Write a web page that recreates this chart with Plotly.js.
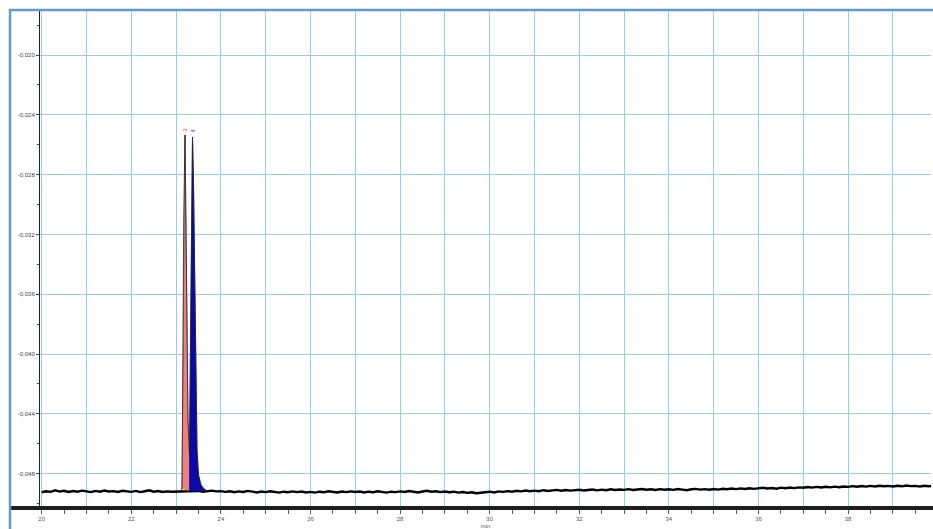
<!DOCTYPE html>
<html>
<head>
<meta charset="utf-8">
<script src="https://cdn.plot.ly/plotly-3.0.1.min.js"></script>
<style>html,body{margin:0;padding:0;background:#fff;}#chart{width:933px;height:529px;}</style>
</head>
<body>
<div id="chart"></div>
<script>
// ---- Data ----
const baseTime = [
20.0,20.1,20.2,20.3,20.4,20.5,20.6,20.7,20.8,20.9,
21.0,21.1,21.2,21.3,21.4,21.5,21.6,21.7,21.8,21.9,
22.0,22.1,22.2,22.3,22.4,22.5,22.6,22.7,22.8,22.9,
23.0,23.1,23.2,23.3,23.4,23.5,23.6,23.7,23.8,23.9,
24.0,24.1,24.2,24.3,24.4,24.5,24.6,24.7,24.8,24.9,
25.0,25.1,25.2,25.3,25.4,25.5,25.6,25.7,25.8,25.9,
26.0,26.1,26.2,26.3,26.4,26.5,26.6,26.7,26.8,26.9,
27.0,27.1,27.2,27.3,27.4,27.5,27.6,27.7,27.8,27.9,
28.0,28.1,28.2,28.3,28.4,28.5,28.6,28.7,28.8,28.9,
29.0,29.1,29.2,29.3,29.4,29.5,29.6,29.7,29.8,29.9,
30.0,30.1,30.2,30.3,30.4,30.5,30.6,30.7,30.8,30.9,
31.0,31.1,31.2,31.3,31.4,31.5,31.6,31.7,31.8,31.9,
32.0,32.1,32.2,32.3,32.4,32.5,32.6,32.7,32.8,32.9,
33.0,33.1,33.2,33.3,33.4,33.5,33.6,33.7,33.8,33.9,
34.0,34.1,34.2,34.3,34.4,34.5,34.6,34.7,34.8,34.9,
35.0,35.1,35.2,35.3,35.4,35.5,35.6,35.7,35.8,35.9,
36.0,36.1,36.2,36.3,36.4,36.5,36.6,36.7,36.8,36.9,
37.0,37.1,37.2,37.3,37.4,37.5,37.6,37.7,37.8,37.9,
38.0,38.1,38.2,38.3,38.4,38.5,38.6,38.7,38.8,38.9,
39.0,39.1,39.2,39.3,39.4,39.5,39.6,39.7,39.8,39.9];
const baseSignal = [
-0.04925,-0.04918,-0.04922,-0.04912,-0.04920,-0.04915,-0.04923,-0.04917,-0.04921,-0.04914,
-0.04919,-0.04924,-0.04916,-0.04921,-0.04913,-0.04920,-0.04917,-0.04923,-0.04915,-0.04919,
-0.04922,-0.04916,-0.04924,-0.04918,-0.04912,-0.04921,-0.04917,-0.04923,-0.04919,-0.04921,
-0.04920,-0.04924,-0.04918,-0.04922,-0.04919,-0.04916,-0.04921,-0.04917,-0.04914,-0.04919,
-0.04917,-0.04922,-0.04918,-0.04925,-0.04919,-0.04923,-0.04916,-0.04921,-0.04926,-0.04920,
-0.04924,-0.04918,-0.04923,-0.04927,-0.04921,-0.04925,-0.04919,-0.04924,-0.04920,-0.04926,
-0.04922,-0.04927,-0.04921,-0.04925,-0.04918,-0.04923,-0.04926,-0.04920,-0.04924,-0.04919,
-0.04923,-0.04920,-0.04926,-0.04921,-0.04925,-0.04918,-0.04922,-0.04927,-0.04921,-0.04924,
-0.04919,-0.04923,-0.04917,-0.04922,-0.04926,-0.04920,-0.04915,-0.04921,-0.04918,-0.04924,
-0.04920,-0.04925,-0.04921,-0.04927,-0.04923,-0.04929,-0.04925,-0.04931,-0.04928,-0.04924,
-0.04921,-0.04926,-0.04919,-0.04922,-0.04917,-0.04921,-0.04915,-0.04919,-0.04913,-0.04918,
-0.04914,-0.04918,-0.04911,-0.04916,-0.04912,-0.04909,-0.04915,-0.04910,-0.04914,-0.04911,
-0.04908,-0.04913,-0.04909,-0.04906,-0.04912,-0.04907,-0.04911,-0.04905,-0.04910,-0.04906,
-0.04909,-0.04904,-0.04910,-0.04906,-0.04903,-0.04908,-0.04905,-0.04910,-0.04904,-0.04908,
-0.04905,-0.04909,-0.04903,-0.04907,-0.04911,-0.04905,-0.04902,-0.04907,-0.04904,-0.04908,
-0.04903,-0.04907,-0.04901,-0.04905,-0.04900,-0.04904,-0.04899,-0.04903,-0.04898,-0.04902,
-0.04899,-0.04895,-0.04900,-0.04896,-0.04901,-0.04894,-0.04898,-0.04893,-0.04897,-0.04892,
-0.04895,-0.04890,-0.04894,-0.04889,-0.04893,-0.04888,-0.04892,-0.04887,-0.04891,-0.04886,
-0.04889,-0.04884,-0.04888,-0.04883,-0.04887,-0.04882,-0.04886,-0.04881,-0.04885,-0.04882,
-0.04886,-0.04881,-0.04885,-0.04880,-0.04884,-0.04882,-0.04886,-0.04881,-0.04885,-0.04883];

// Peak region signal (peaks 3 and 4)
const peakTime   = [23.087,23.130,23.143,23.155,23.170,23.199,23.221,23.243,23.266,23.299,
                    23.318,23.337,23.352,23.366,23.388,23.411,23.429,23.444,23.467,23.500,23.556,23.623,23.690];
const peakSignal = [-0.04916,-0.04903,-0.04442,-0.03840,-0.03104,-0.02535,-0.03104,-0.03773,-0.04442,-0.04676,
                    -0.03973,-0.03304,-0.02836,-0.02549,-0.02836,-0.03304,-0.03840,-0.04308,-0.04642,-0.04809,-0.04876,-0.04903,-0.04916];
const valleyIndex = 9;          // drop line between peak 3 and peak 4
const valleyBase = -0.04916;    // baseline under the drop line
const peakLabels = ["3", "4"];
const peakLabelTime = [23.190, 23.372];
const peakLabelSignal = [-0.02502, -0.02508];

// Axis ticks
const xTickVals = [20,21,22,23,24,25,26,27,28,29,30,31,32,33,34,35,36,37,38,39];
const xTickText = ["20","","22","","24","","26","","28","","30","","32","","34","","36","","38",""];
const yTickVals = [-0.020,-0.024,-0.028,-0.032,-0.036,-0.040,-0.044,-0.048];
const yTickText = ["-0,020","-0,024","-0,028","-0,032","-0,036","-0,040","-0,044","-0,048"];

// ---- Build traces ----
const redX = peakTime.slice(1, valleyIndex + 1).concat([peakTime[valleyIndex]]);
const redY = peakSignal.slice(1, valleyIndex + 1).concat([valleyBase]);
const blueX = [peakTime[valleyIndex]].concat(peakTime.slice(valleyIndex));
const blueY = [valleyBase].concat(peakSignal.slice(valleyIndex));

const traces = [
  {x: baseTime, y: baseSignal, type: 'scatter', mode: 'lines',
   line: {color: '#000', width: 2.4}, hoverinfo: 'skip'},
  {x: redX, y: redY, type: 'scatter', mode: 'lines', fill: 'toself',
   fillcolor: '#f08080', line: {color: '#6a5050', width: 0.6}, hoverinfo: 'skip'},
  {x: blueX, y: blueY, type: 'scatter', mode: 'lines', fill: 'toself',
   fillcolor: '#0a0aa8', line: {color: '#0a0aa8', width: 0.6}, hoverinfo: 'skip'},
  {x: peakTime, y: peakSignal, type: 'scatter', mode: 'lines',
   line: {color: '#222', width: 0.8}, hoverinfo: 'skip'}
];

const L = 40, R = 2, T = 11, B = 22, W = 933, H = 529;
const pw = W - L - R, ph = H - T - B;
const px = v => (v - L) / pw;           // pixel x -> paper
const py = v => (H - B - v) / ph;       // pixel y -> paper

const layout = {
  width: W, height: H,
  margin: {l: L, r: R, t: T, b: B, pad: 0},
  paper_bgcolor: '#fff', plot_bgcolor: '#fff',
  showlegend: false,
  font: {family: 'Liberation Sans, Arial, sans-serif', size: 6, color: '#444'},
  xaxis: {
    range: [19.962, 39.851],
    tickmode: 'array', tickvals: xTickVals, ticktext: xTickText,
    showgrid: true, gridcolor: 'rgb(150,205,240)', gridwidth: 1,
    zeroline: false, showline: false,
    ticks: 'outside', ticklen: 6, tickcolor: '#555', tickwidth: 1,
    minor: {dtick: 0.5, tick0: 20, ticks: 'outside', ticklen: 6, tickcolor: '#555', showgrid: false},
    tickfont: {size: 6, color: '#555'},
    title: {text: 'min', font: {size: 6, color: '#555'}, standoff: 4}
  },
  yaxis: {
    range: [-0.050234, -0.017057],
    tickmode: 'array', tickvals: yTickVals, ticktext: yTickText,
    showgrid: true, gridcolor: 'rgb(150,205,240)', gridwidth: 1,
    zeroline: false, showline: true, linecolor: '#222', linewidth: 1,
    ticks: 'outside', ticklen: 3, tickcolor: '#444',
    minor: {dtick: 0.002, tick0: -0.020, ticks: 'outside', ticklen: 2, tickcolor: '#444', showgrid: false},
    tickfont: {size: 6, color: '#444'}
  },
  annotations: [
    {x: peakLabelTime[0], y: peakLabelSignal[0], text: peakLabels[0], showarrow: false,
     textangle: -90, font: {size: 6, color: '#e03030'}, xanchor: 'center', yanchor: 'middle'},
    {x: peakLabelTime[1], y: peakLabelSignal[1], text: peakLabels[1], showarrow: false,
     textangle: -90, font: {size: 6, color: '#2040d0'}, xanchor: 'center', yanchor: 'middle'}
  ],
  shapes: [
    // thick x-axis bar
    {type: 'line', xref: 'paper', yref: 'paper', x0: px(11), x1: px(933), y0: py(508), y1: py(508),
     line: {color: '#1e1e1e', width: 4}},
    // blue frame: left and top
    {type: 'line', xref: 'paper', yref: 'paper', x0: px(10), x1: px(10), y0: py(529), y1: py(9),
     line: {color: '#5b9bd5', width: 2.5}},
    {type: 'line', xref: 'paper', yref: 'paper', x0: px(9), x1: px(933), y0: py(10), y1: py(10),
     line: {color: '#5b9bd5', width: 2.5}}
  ]
};

Plotly.newPlot('chart', traces, layout, {displayModeBar: false, staticPlot: true});
</script>
</body>
</html>
